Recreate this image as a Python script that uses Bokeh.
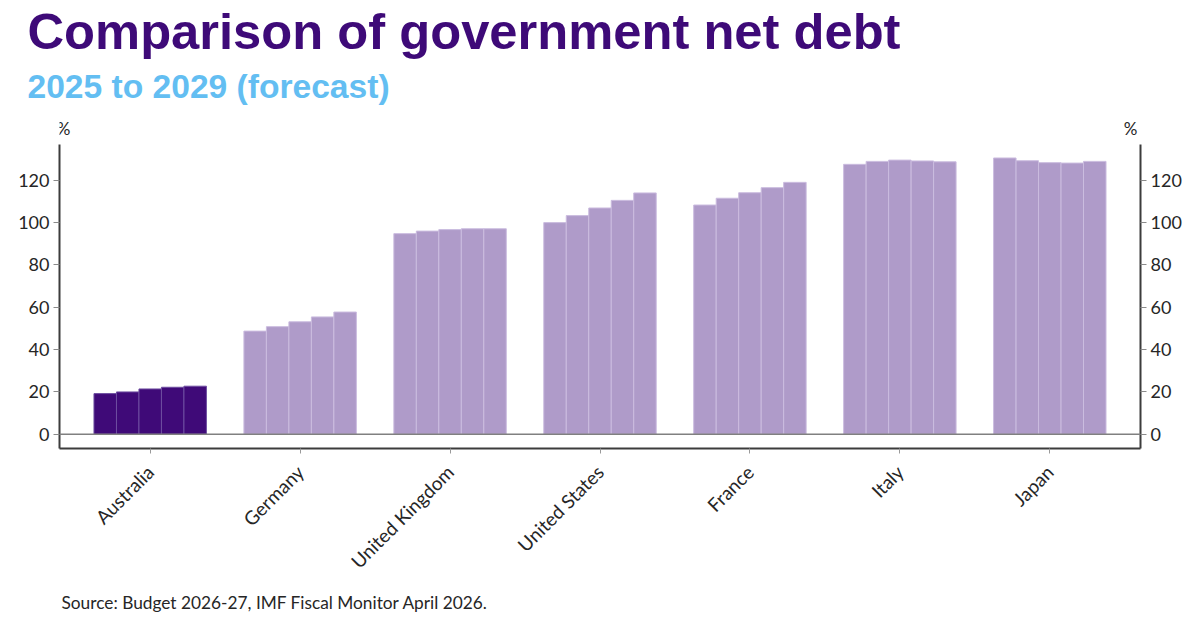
import math
from bokeh.plotting import figure
from bokeh.models import (Range1d, LinearAxis, FixedTicker, Span, Label, Title, ColumnDataSource)
from bokeh.embed import file_html
from bokeh.resources import INLINE

# ---- data ----
countries = ["Australia", "Germany", "United Kingdom", "United States", "France", "Italy", "Japan"]
years = ["2025", "2026", "2027", "2028", "2029"]
debt_2025 = [19.2, 48.7, 94.7, 99.9, 108.2, 127.4, 130.4]
debt_2026 = [20.0, 50.8, 95.9, 103.2, 111.4, 128.8, 129.1]
debt_2027 = [21.4, 53.1, 96.6, 106.8, 114.0, 129.4, 128.2]
debt_2028 = [22.2, 55.4, 97.0, 110.4, 116.4, 129.0, 128.0]
debt_2029 = [22.7, 57.7, 97.0, 113.9, 118.9, 128.6, 128.8]
y_ticks = [0, 20, 40, 60, 80, 100, 120]

series = [debt_2025, debt_2026, debt_2027, debt_2028, debt_2029]

TITLE_COL = "#3E0A78"
SUB_COL = "#63BEF2"
DARK = "#3F0A78"
LIGHT = "#AF9BC9"
AXIS_COL = "#3C3C3C"
TXT = "#262626"
FONT = "Lato"

FRAME_W, FRAME_H = 1081, 338
Y_MIN, Y_AXIS_TOP = -6.7, 136.9
Y_MAX = Y_MIN + FRAME_H / 2.119
X_PAD = 0.605

p = figure(frame_width=FRAME_W, frame_height=FRAME_H, output_backend="svg", toolbar_location=None,
           x_range=Range1d(-X_PAD, len(countries) - 1 + X_PAD),
           y_range=Range1d(Y_MIN, Y_MAX),
           min_border_left=59, min_border_right=60, min_border_top=110, min_border_bottom=182,
           y_axis_location=None)
p.outline_line_color = None
p.xgrid.visible = False
p.ygrid.visible = False
p.background_fill_color = "white"
p.border_fill_color = "white"

bar_w = 0.15
for j, vals in enumerate(series):
    xs = [i + (j - 2) * bar_w for i in range(len(countries))]
    cols = [DARK if c == "Australia" else LIGHT for c in countries]
    edges = ["#6E4EA0" if c == "Australia" else "#CBBCDF" for c in countries]
    src = ColumnDataSource(dict(x=xs, top=vals, fill=cols, edge=edges,
                                country=countries, year=[years[j]] * len(countries)))
    p.vbar(x="x", top="top", bottom=0, width=bar_w, source=src,
           fill_color="fill", line_color="edge", line_width=1)

p.add_layout(Span(location=0, dimension="width", line_color="#808080", line_width=1.5))

# x axis
xa = p.xaxis[0]
xa.ticker = FixedTicker(ticks=list(range(len(countries))))
xa.major_label_overrides = {i: c for i, c in enumerate(countries)}
xa.major_label_orientation = math.pi / 4
xa.axis_line_color = AXIS_COL
xa.axis_line_width = 2
xa.major_tick_in = 0
xa.major_tick_out = 5
xa.major_tick_line_color = "#9A9A9A"
xa.minor_tick_line_color = None
xa.major_label_text_font = FONT
xa.major_label_text_font_size = "19px"
xa.major_label_text_color = TXT
xa.major_label_standoff = 15

for side in ("left", "right"):
    ya = LinearAxis(ticker=FixedTicker(ticks=y_ticks), bounds=(Y_MIN, Y_AXIS_TOP))
    ya.axis_line_color = AXIS_COL
    ya.axis_line_width = 2
    ya.major_tick_in = 0
    ya.major_tick_out = 6
    ya.major_tick_line_color = "#8A8A8A"
    ya.minor_tick_line_color = None
    ya.major_label_text_font = FONT
    ya.major_label_text_font_size = "18px"
    ya.major_label_text_color = TXT
    ya.major_label_standoff = 4
    p.add_layout(ya, side)

# "%" unit labels (inside the extended frame, above the axis bounds)
p.add_layout(Label(x=-X_PAD, y=144.5, x_offset=4, text="%", text_align="center",
                   text_baseline="middle", text_font=FONT, text_font_size="17px", text_color=TXT))
p.add_layout(Label(x=len(countries) - 1 + X_PAD, y=144.5, x_offset=-10, text="%",
                   text_align="center", text_baseline="middle", text_font=FONT,
                   text_font_size="17px", text_color=TXT))

# titles (stacked above: first added is nearest the plot)
p.add_layout(Title(text="2025 to 2029 (forecast)", align="left", offset=-32, standoff=12,
                   text_font="Liberation Sans", text_font_style="bold", text_font_size="33.6px",
                   text_color=SUB_COL), "above")
p.add_layout(Title(text="Comparison of government net debt", align="left", offset=-32, standoff=0,
                   text_font="Liberation Sans", text_font_style="bold", text_font_size="50.7px",
                   text_color=TITLE_COL), "above")
p.add_layout(Title(text="Source: Budget 2026-27, IMF Fiscal Monitor April 2026.", align="left",
                   offset=2, standoff=12, text_font=FONT, text_font_style="normal",
                   text_font_size="17.3px", text_color=TXT), "below")

open("out.html", "w").write(file_html(p, INLINE))
